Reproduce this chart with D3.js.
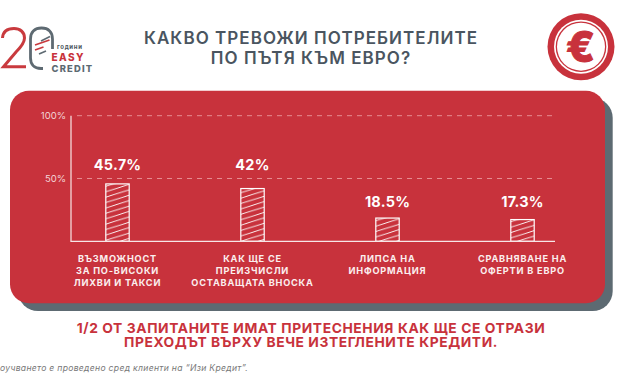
<!DOCTYPE html>
<html><head><meta charset="utf-8">
<script src="https://cdnjs.cloudflare.com/ajax/libs/d3/7.8.5/d3.min.js"></script>
<style>html,body{margin:0;padding:0;background:#fff}svg{display:block}text{font-family:Inter,"Noto Sans",sans-serif}</style>
</head><body><svg id="c" width="623" height="380"></svg>
<script>
const categories = [
  ["ВЪЗМОЖНОСТ","ЗА ПО-ВИСОКИ","ЛИХВИ И ТАКСИ"],
  ["КАК ЩЕ СЕ","ПРЕИЗЧИСЛИ","ОСТАВАЩАТА ВНОСКА"],
  ["ЛИПСА НА","ИНФОРМАЦИЯ"],
  ["СРАВНЯВАНЕ НА","ОФЕРТИ В ЕВРО"]
];
const values = [45.7, 42, 18.5, 17.3];
const valueLabels = ["45.7%","42%","18.5%","17.3%"];
const yTicks = [50, 100];
const titleLines = ["КАКВО ТРЕВОЖИ ПОТРЕБИТЕЛИТЕ","ПО ПЪТЯ КЪМ ЕВРО?"];
const noteLines = ["1/2 ОТ ЗАПИТАНИТЕ ИМАТ ПРИТЕСНЕНИЯ КАК ЩЕ СЕ ОТРАЗИ","ПРЕХОДЪТ ВЪРХУ ВЕЧЕ ИЗТЕГЛЕНИТЕ КРЕДИТИ."];
const footnote = "оучването е проведено сред клиенти на “Изи Кредит”.";

const RED="#c8323c", GREY="#5d6a72", INK="#4a5560";
const labelLift=[14,18.5,11.5,12.5];
const svg=d3.select("#c");
const x=d3.scaleBand().domain(d3.range(categories.length)).range([50,590]);
const y=d3.scaleLinear().domain([0,100]).range([241.3,115.7]);

// hatch
const pat=svg.append("defs").append("pattern").attr("id","h").attr("patternUnits","userSpaceOnUse")
  .attr("width",17.28).attr("height",5.4).attr("patternTransform","translate(0,241)");
pat.append("path").attr("d","M-1.728,5.94 L19,-0.54 M-1.728,11.34 L19,4.86 M-1.728,0.54 L19,-5.94").attr("stroke","#fff").attr("stroke-width",0.9).attr("fill","none");

// card
svg.append("rect").attr("x",18).attr("y",98).attr("width",594.7).attr("height",213).attr("rx",20).attr("fill",GREY);
svg.append("rect").attr("x",10).attr("y",90.7).attr("width",595).attr("height",212.5).attr("rx",19).attr("fill",RED);

// title
svg.append("g").selectAll("text").data(titleLines).join("text")
  .attr("x",311).attr("y",(d,i)=>43.5+i*20.5).attr("text-anchor","middle")
  .attr("font-size",17).attr("font-weight",600).attr("letter-spacing",1.05).attr("fill",INK).text(d=>d);

// axes
const g=svg.append("g");
const yAxis=d3.axisLeft(y).tickValues(yTicks).tickSize(0).tickPadding(5).tickFormat(d=>d+"%");
const ya=g.append("g").attr("transform","translate(71,0)").call(yAxis);
ya.select(".domain").remove();
ya.selectAll("text").attr("fill","#f3d5d7").attr("font-size",9.5).style("font-family","Inter");
g.selectAll(".grid").data(yTicks).join("line").attr("class","grid")
  .attr("x1",77).attr("x2",555).attr("y1",y).attr("y2",y)
  .attr("stroke","#e58d92").attr("stroke-width",1).attr("stroke-dasharray","5 5");
g.append("line").attr("x1",71).attr("x2",71).attr("y1",y(100)).attr("y2",y(0)).attr("stroke","#f7e6e7").attr("stroke-width",1.2);

// bars
g.selectAll(".bar").data(values).join("rect").attr("class","bar")
  .attr("x",(d,i)=>x(i)+x.bandwidth()/2-11.7).attr("width",23.4)
  .attr("y",d=>y(d)).attr("height",d=>y(0)-y(d))
  .attr("fill","url(#h)").attr("stroke","#fff").attr("stroke-width",1.2);
g.append("line").attr("x1",70.4).attr("x2",555).attr("y1",y(0)).attr("y2",y(0)).attr("stroke","#f7e6e7").attr("stroke-width",1.3);

g.selectAll(".val").data(values).join("text").attr("class","val")
  .attr("x",(d,i)=>x(i)+x.bandwidth()/2).attr("y",(d,i)=>y(d)-labelLift[i])
  .attr("text-anchor","middle").attr("font-size",14.5).attr("font-weight",700).attr("letter-spacing",0.2).attr("fill","#fff")
  .text((d,i)=>valueLabels[i]);

const cat=g.selectAll(".cat").data(categories).join("text").attr("class","cat")
  .attr("text-anchor","middle").attr("font-size",9.2).attr("font-weight",700).attr("letter-spacing",0.78).attr("fill","#fbeeee");
cat.selectAll("tspan").data((d,i)=>d.map(t=>({t,i}))).join("tspan")
  .attr("x",d=>x(d.i)+x.bandwidth()/2).attr("y",(d,j)=>261.5+j*12).text(d=>d.t);

// note
svg.append("g").selectAll("text").data(noteLines).join("text")
  .attr("x",311).attr("y",(d,i)=>332.5+i*14.5).attr("text-anchor","middle")
  .attr("font-size",13.8).attr("font-weight",700).attr("letter-spacing",0.6).attr("fill",RED).text(d=>d);
svg.append("text").attr("x",0).attr("y",371).attr("font-size",8.6).attr("font-style","italic").attr("letter-spacing",0.3).attr("fill","#777").text(footnote);

// euro badge
const b=svg.append("g").attr("transform","translate(581,46.7)");
b.append("circle").attr("r",33.5).attr("fill",RED);
b.append("circle").attr("r",27).attr("fill","#fff");
b.append("circle").attr("r",25.3).attr("fill",RED);
b.append("circle").attr("r",24).attr("fill","#fff");
b.append("text").attr("y",15).attr("x",-0.5).attr("text-anchor","middle").attr("font-size",42).attr("font-weight",800)
  .attr("fill",RED).attr("stroke",RED).attr("stroke-width",1).text("€");

// logo
const l=svg.append("g").attr("fill","none");
l.append("path").attr("d","M2.5,38 C3,31 8,28.5 14,28.5 C20,28.5 24.5,32 24.5,38 C24.5,43 21,47 16,52 L3.5,66.8 H26").attr("stroke","#c93a3e").attr("stroke-width",3);
l.append("path").attr("d","M43,68.5 H41 C34,68.5 30.5,64 30.5,58 V39 C30.5,32 35,28 41.5,28 C48.5,28 52.5,32 52.5,39 V49").attr("stroke","#5e6a72").attr("stroke-width",2.8);
l.append("path").attr("d","M35,45 L49.5,40 M35,50 L43.5,47").attr("stroke","#c93a3e").attr("stroke-width",1.7);
l.append("path").attr("d","M41,41 L50,36.5 M39,54 L46,51").attr("stroke","#5e6a72").attr("stroke-width",1.6);
l.append("text").attr("x",57).attr("y",49.3).attr("font-size",6).attr("font-weight",700).attr("letter-spacing",0.7).attr("fill",INK).text("години");
l.append("text").attr("x",51.5).attr("y",60.7).attr("font-size",10).attr("font-weight",800).attr("letter-spacing",1.4).attr("fill",RED).text("EASY");
l.append("text").attr("x",51.5).attr("y",72.2).attr("font-size",9.4).attr("font-weight",800).attr("letter-spacing",1.2).attr("fill",GREY).text("CREDIT");
</script></body></html>
